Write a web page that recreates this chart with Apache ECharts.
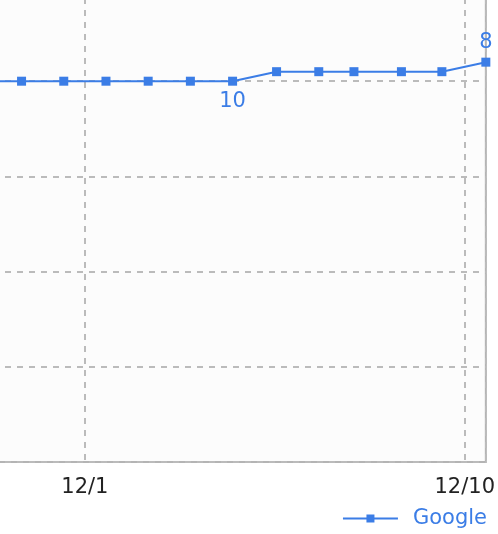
<!DOCTYPE html>
<html>
<head>
<meta charset="utf-8">
<script src="https://cdn.jsdelivr.net/npm/echarts@6/dist/echarts.min.js"></script>
<style>
html,body{margin:0;padding:0;background:#fff;overflow:hidden;width:498px;height:534px;position:relative;}
#c{position:absolute;left:-300px;top:-20px;width:798px;height:554px;}
</style>
</head>
<body>
<div id="c"></div>
<script>
// Observation times (month/day hour) and rank values for the "Google" series
var times = ['11/28 12:00','11/29 12:00','11/30 12:00','12/1 12:00','12/2 12:00','12/3 12:00','12/4 12:00',
             '12/5 13:00','12/6 13:00','12/7 09:00','12/8 12:00','12/9 11:00','12/10 12:00'];
var ranks = [10,10,10,10,10,10,10,9,9,9,9,9,8];
// indices of points that carry a value label, and where
var labelTop = [12];
var labelBottom = [6];
var seriesName = 'Google';
var tickDates = ['12/1','12/10'];

// convert "M/D HH:MM" into days relative to 12/1 00:00
function toDays(s){
  var p = s.split(' '); var md = p[0].split('/'); var hm = p[1].split(':');
  var m = +md[0], d = +md[1];
  var day = (m === 12) ? d - 1 : d - 31;
  return day + (+hm[0] + (+hm[1]) / 60) / 24;
}
var color = '#3b7de6';
var data = times.map(function(t, i){
  var item = { value: [toDays(t), ranks[i]] };
  if (labelTop.indexOf(i) >= 0) item.label = { show: true, position: 'top' };
  if (labelBottom.indexOf(i) >= 0) item.label = { show: true, position: 'bottom' };
  return item;
});
var xMax = toDays(times[times.length - 1]);

var chart = echarts.init(document.getElementById('c'));
chart.setOption({
  animation: false,
  backgroundColor: '#ffffff',
  grid: {
    left: 5, right: 12, top: 6, bottom: 72,
    show: true, backgroundColor: '#fcfcfc', borderColor: '#b4b4b4', borderWidth: 2
  },
  xAxis: {
    type: 'value', min: -9, max: xMax, interval: 9,
    axisLine: { show: true, lineStyle: { color: '#aaaaaa', width: 2 } },
    axisTick: { show: false },
    splitLine: { show: true, lineStyle: { color: '#bbbbbb', width: 2, type: [6, 6] } },
    axisLabel: {
      margin: 15, color: '#222', fontFamily: 'DejaVu Sans', fontSize: 21,
      showMinLabel: true, showMaxLabel: true,
      formatter: function(v){
        if (Math.abs(v - Math.round(v)) > 1e-6) return '';
        var k = Math.round(v / 9);
        if (k === 0) return tickDates[0];
        if (k === 1) return tickDates[1];
        return '';
      }
    }
  },
  yAxis: {
    type: 'value', inverse: true, min: 0, max: 50, interval: 10,
    axisLine: { show: false }, axisTick: { show: false }, axisLabel: { show: false },
    splitLine: { show: true, lineStyle: { color: '#bbbbbb', width: 2, type: [6, 6] } }
  },
  legend: {
    data: [seriesName], right: 6, top: 523,
    itemWidth: 55, itemHeight: 10,
    textStyle: { color: color, fontFamily: 'DejaVu Sans', fontSize: 21, padding: [0, 0, 0, 10] }
  },
  series: [{
    name: seriesName, type: 'line', data: data,
    symbol: 'rect', symbolSize: 9, showAllSymbol: true,
    itemStyle: { color: color },
    lineStyle: { color: color, width: 2 },
    label: { show: false, color: color, fontFamily: 'DejaVu Sans', fontSize: 21, distance: 5 }
  }]
});
</script>
</body>
</html>
